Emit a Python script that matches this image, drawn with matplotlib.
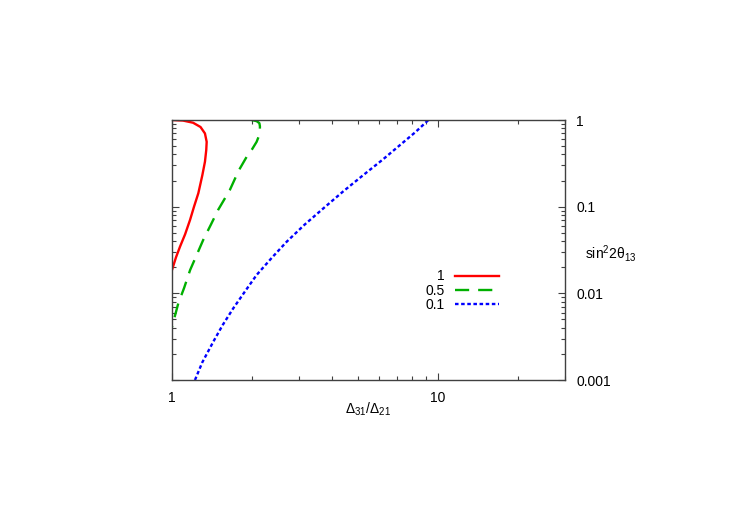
import numpy as np
import matplotlib
matplotlib.use("Agg")
import matplotlib.pyplot as plt
from matplotlib.ticker import LogLocator, NullFormatter, FixedLocator, FixedFormatter

plt.rcParams['font.family'] = ['Liberation Sans', 'DejaVu Sans']
plt.rcParams['mathtext.fontset'] = 'custom'
plt.rcParams['mathtext.rm'] = 'Liberation Sans'
plt.rcParams['mathtext.it'] = 'Liberation Sans'

# curves (x = D31/D21, y = sin^2 2theta13)
red_x = [1.0, 1.1, 1.2, 1.28, 1.33, 1.35, 1.345, 1.33, 1.30, 1.256, 1.21, 1.169, 1.12, 1.072, 1.035, 1.0]
red_y = [1.0, 0.985, 0.93, 0.83, 0.70, 0.56, 0.45, 0.33, 0.23, 0.143, 0.10, 0.0703, 0.048, 0.0346, 0.026, 0.0186]

green_x = [1.99, 2.08, 2.13, 2.14, 2.14, 2.08, 2.0, 1.91, 1.78, 1.65, 1.49, 1.40, 1.31, 1.24, 1.17, 1.11, 1.056, 1.0]
green_y = [1.0, 0.97, 0.92, 0.85, 0.70, 0.56, 0.46, 0.378, 0.26, 0.156, 0.0916, 0.062, 0.0413, 0.028, 0.0186, 0.0115, 0.00768, 0.0041]

blue_x = [1.22, 1.30, 1.43, 1.55, 1.70, 1.88, 2.08, 2.38, 2.70, 3.15, 3.71, 4.4, 5.24, 6.2, 7.2, 8.2, 9.2]
blue_y = [0.001, 0.0016, 0.00277, 0.0043, 0.00673, 0.0105, 0.0163, 0.026, 0.0395, 0.062, 0.0959, 0.15, 0.232, 0.35, 0.515, 0.72, 1.0]

labels = ["1", "0.5", "0.1"]
x_ticks = [1, 10]
y_ticks = [0.001, 0.01, 0.1, 1]
y_ticklabels = ["0.001", "0.01", "0.1", "1"]

fig = plt.figure(figsize=(7.36, 5.15), dpi=100)
ax = fig.add_axes([172/736, 1 - 380/515, 393/736, 260/515])

ax.plot(red_x, red_y, color="#ff0000", lw=1.7, label=labels[0])
ax.plot(green_x, green_y, color="#00b000", lw=1.7, dashes=(6, 3.8), label=labels[1])
ax.plot(blue_x, blue_y, color="#0000ff", lw=1.7, dashes=(1.5, 1.1), label=labels[2])

ax.set_xscale("log")
ax.set_yscale("log")
ax.set_xlim(1, 30)
ax.set_ylim(0.001, 1)

ax.xaxis.set_major_locator(FixedLocator(x_ticks))
ax.xaxis.set_major_formatter(FixedFormatter([str(v) for v in x_ticks]))
ax.xaxis.set_minor_locator(LogLocator(base=10, subs=np.arange(2, 10)))
ax.xaxis.set_minor_formatter(NullFormatter())
ax.yaxis.set_major_locator(FixedLocator(y_ticks))
ax.yaxis.set_major_formatter(FixedFormatter(y_ticklabels))
ax.yaxis.set_minor_locator(LogLocator(base=10, subs=np.arange(2, 10)))
ax.yaxis.set_minor_formatter(NullFormatter())

ax.tick_params(which="both", direction="in", top=True, right=True, left=True, bottom=True,
               labelleft=False, labelright=True, color="#404040", labelsize=10)
ax.tick_params(which="major", length=5, width=0.8)
ax.tick_params(which="minor", length=3, width=0.8)
ax.tick_params(axis="x", pad=8)
ax.tick_params(axis="y", pad=8)
for s in ax.spines.values():
    s.set_color("#404040")
    s.set_linewidth(1.0)

ax.set_xlabel(r"$\mathregular{\Delta_{31}/\Delta_{21}}$", fontsize=10, labelpad=-3)
ax.text(1.05, 0.488, r"sin$^2$2$\mathregular{\theta_{13}}$", transform=ax.transAxes,
        fontsize=10, ha="left", va="center")

leg = ax.legend(loc="upper right", bbox_to_anchor=(0.832, 0.425), frameon=False,
                markerfirst=False, handlelength=3.2, handletextpad=0.7,
                labelspacing=0.02, borderpad=0, borderaxespad=0, fontsize=10)

fig.savefig("out.png", dpi=100)
